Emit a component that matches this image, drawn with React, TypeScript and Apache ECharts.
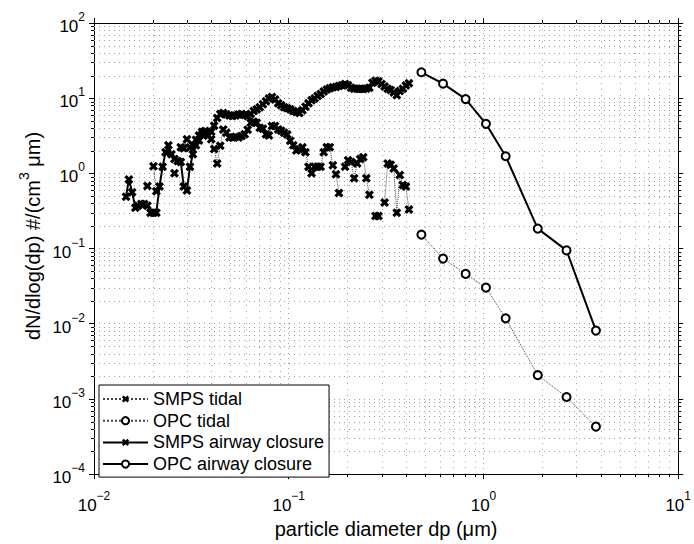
import React, { useEffect, useRef } from "react";
import * as echarts from "echarts";

// SMPS channel mid-point diameters (µm)
const smpsDp = [
  0.0146, 0.0151, 0.0157, 0.0163, 0.0168, 0.0175, 0.0181, 0.0188, 0.0195, 0.0202,
  0.0209, 0.0217, 0.0225, 0.0233, 0.0241, 0.025, 0.0259, 0.0269, 0.0279, 0.0289,
  0.03, 0.0311, 0.0322, 0.0334, 0.0346, 0.0359, 0.0372, 0.0385, 0.04, 0.0414,
  0.0429, 0.0445, 0.0461, 0.0478, 0.0496, 0.0514, 0.0533, 0.0552, 0.0573, 0.0594,
  0.0615, 0.0638, 0.0661, 0.0685, 0.071, 0.0737, 0.0764, 0.0791, 0.082, 0.0851,
  0.0882, 0.0914, 0.0947, 0.0982, 0.1018, 0.1055, 0.1094, 0.1134, 0.1176, 0.1219,
  0.1263, 0.131, 0.1358, 0.1407, 0.1459, 0.1512, 0.1568, 0.1625, 0.1685, 0.1747,
  0.1811, 0.1877, 0.1946, 0.2017, 0.2091, 0.2167, 0.2247, 0.2329, 0.2414, 0.2503,
  0.2595, 0.269, 0.2788, 0.289, 0.2996, 0.3106, 0.322, 0.3338, 0.346, 0.3587,
  0.3718, 0.3854, 0.3995, 0.4142,
];

const smpsTidal: (number | null)[] = [
  null, null, null, null, null, null, null, 0.68, null, 1.24,
  0.58, null, null, null, null, null, 1.0, null, 2.22, 2.15,
  2.85, 2.2, 2.36, 2.8, 3.18, 3.59, 3.66, 3.18, 2.85, 2.11,
  1.35, 2.33, 3.84, 3.48, 3.0, 3.0, 3.08, 3.0, 3.15, 3.31,
  3.81, 4.7, 4.85, 4.7, 4.04, 3.92, 3.31, 3.18, 4.25, 4.25,
  3.84, 3.7, 3.48, 3.28, 2.71, 2.36, 2.01, 2.1, 2.22, 1.91,
  1.22, 1.0, 1.22, 1.22, 1.22, 1.91, 2.22, 2.22, 1.28, 0.97,
  0.55, null, 1.22, 1.5, 1.42, 0.86, 1.35, 1.55, 1.64, 0.86,
  0.52, null, 0.27, 0.27, null, 0.41, 1.35, 1.3, 1.16, 0.3,
  0.95, 0.7, 0.67, 0.33,
];

const smpsClosure = [
  0.49, 0.83, 0.56, 0.35, 0.37, 0.39, 0.39, 0.37, 0.3, 0.3,
  0.3, 0.67, 1.22, 1.91, 2.36, 1.8, 1.55, 1.46, 1.42, 0.67,
  0.59, 1.22, 1.8, 2.36, 2.74, 3.28, 3.38, 3.18, 3.59, 4.29,
  5.46, 6.15, 6.34, 6.06, 5.89, 5.8, 5.89, 6.06, 6.15, 5.97,
  5.8, 6.15, 6.73, 7.14, 7.59, 8.3, 9.08, 9.94, 10.4, 9.64,
  8.55, 8.05, 7.59, 7.36, 7.14, 6.73, 6.53, 6.34, 6.93, 7.7,
  8.55, 9.36, 9.94, 10.7, 11.4, 12.3, 13.0, 13.6, 14.0, 14.1,
  14.5, 14.9, 15.4, 14.9, 13.8, 13.4, 13.4, 13.4, 13.2, 13.4,
  13.8, 16.1, 17.1, 16.8, 15.4, 14.3, 13.4, 12.8, 11.9, 10.9,
  12.5, 13.4, 14.7, 15.8,
];

const opcDp = [0.48, 0.62, 0.81, 1.03, 1.3, 1.9, 2.67, 3.78];
const opcTidal = [0.153, 0.0735, 0.046, 0.0302, 0.0118, 0.00207, 0.00106, 0.000428];
const opcClosure = [22.1, 15.6, 9.73, 4.56, 1.69, 0.184, 0.0945, 0.0081];

const seriesNames = ["SMPS tidal", "OPC tidal", "SMPS airway closure", "OPC airway closure"];
const X_MIN = 0.01;
const X_MAX = 10;
const Y_MIN = 1e-4;
const Y_MAX = 100;
const minorMultipliers = [2, 3, 4, 5, 6, 7, 8, 9];
const xDecades = [-2, -1, 0];
const yDecades = [-4, -3, -2, -1, 0, 1];

const FONT = "Liberation Sans, Arial, Helvetica, sans-serif";
const X_SYMBOL =
  "path://M2.5,0 L5,2.5 L7.5,0 L10,2.5 L7.5,5 L10,7.5 L7.5,10 L5,7.5 L2.5,10 L0,7.5 L2.5,5 L0,2.5 Z";

const supLabel = (v: number) => {
  const e = Math.round(Math.log10(v));
  const s = e < 0 ? "\u2212" + Math.abs(e) : String(e);
  return `{b|10}{s|${s}}`;
};

const supRich = {
  b: { fontSize: 17, lineHeight: 24, verticalAlign: "bottom", fontFamily: FONT, color: "#000" },
  s: { fontSize: 12, lineHeight: 8, verticalAlign: "top", fontFamily: FONT, color: "#000" },
};

export default function App() {
  const ref = useRef<HTMLDivElement>(null);

  useEffect(() => {
    document.body.style.margin = "0";
    if (!ref.current) return;
    const chart = echarts.init(ref.current, undefined, { renderer: "svg" });

    const minorX: number[][] = [];
    xDecades.forEach((k) => minorMultipliers.forEach((m) => minorX.push([m * Math.pow(10, k), 1])));
    const minorY: number[][] = [];
    yDecades.forEach((k) => minorMultipliers.forEach((m) => minorY.push([1, m * Math.pow(10, k)])));

    const gridColor = "#a0a0a0";
    const crisp = (v: number) => Math.round(v) + 0.5;

    const axisCommon = {
      type: "log" as const,
      logBase: 10,
      axisLine: { show: true, lineStyle: { color: "#000", width: 1 } },
      axisTick: { show: true, inside: false, length: 5, lineStyle: { color: "#000", width: 1 } },
    };

    chart.setOption({
      animation: false,
      backgroundColor: "#fff",
      textStyle: { fontFamily: FONT },
      grid: { left: 94, right: 15, top: 23, bottom: 60, show: false },
      xAxis: [
        {
          ...axisCommon,
          min: X_MIN,
          max: X_MAX,
          position: "bottom",
          axisLabel: { formatter: supLabel, rich: supRich, margin: 16 },
          splitLine: { show: true, lineStyle: { color: gridColor, type: [1, 4], width: 1 } },
          name: "particle diameter dp (\u03bcm)",
          nameLocation: "middle",
          nameGap: 43,
          nameTextStyle: { fontSize: 20, color: "#000", fontFamily: FONT },
        },
        {
          ...axisCommon,
          min: X_MIN,
          max: X_MAX,
          position: "top",
          axisLabel: { show: false },
          splitLine: { show: false },
        },
      ],
      yAxis: [
        {
          ...axisCommon,
          min: Y_MIN,
          max: Y_MAX,
          position: "left",
          axisLabel: { formatter: supLabel, rich: supRich, margin: 9 },
          splitLine: { show: true, lineStyle: { color: gridColor, type: [1, 4], width: 1 } },
        },
        {
          ...axisCommon,
          min: Y_MIN,
          max: Y_MAX,
          position: "right",
          axisLabel: { show: false },
          splitLine: { show: false },
        },
      ],
      graphic: [
        {
          type: "text",
          x: 30,
          y: 236,
          rotation: Math.PI / 2,
          style: {
            text: "{a|dN/dlog(dp) #/(cm}{s|3}{a| \u03bcm)}",
            align: "center",
            verticalAlign: "middle",
            textAlign: "center",
            textVerticalAlign: "middle",
            rich: {
              a: { fontSize: 20, lineHeight: 26, verticalAlign: "bottom", fontFamily: FONT, fill: "#000", color: "#000" },
              s: { fontSize: 14, lineHeight: 12, verticalAlign: "top", fontFamily: FONT, fill: "#000", color: "#000" },
            },
          },
        },
      ],
      legend: {
        data: seriesNames,
        orient: "vertical",
        left: 99,
        top: 385,
        itemWidth: 45,
        itemHeight: 9,
        itemGap: 3.7,
        padding: [5, 5, 4, 3],
        borderColor: "#000",
        borderWidth: 1,
        borderRadius: 0,
        backgroundColor: "#fff",
        textStyle: { fontSize: 18, lineHeight: 18, color: "#000", fontFamily: FONT },
        z: 10,
      },
      series: [
        {
          type: "custom",
          name: "minorX",
          silent: true,
          clip: false,
          z: 1,
          data: minorX,
          renderItem: (_p: any, api: any) => {
            const v = api.value(0);
            const b = api.coord([v, Y_MIN]);
            const t = api.coord([v, Y_MAX]);
            const x = crisp(b[0]);
            return {
              type: "group",
              children: [
                { type: "line", shape: { x1: x, y1: b[1], x2: x, y2: t[1] }, style: { stroke: gridColor, lineWidth: 1, lineDash: [1, 5] } },
                { type: "line", shape: { x1: x, y1: b[1], x2: x, y2: b[1] + 3 }, style: { stroke: "#000", lineWidth: 1 } },
                { type: "line", shape: { x1: x, y1: t[1], x2: x, y2: t[1] - 3 }, style: { stroke: "#000", lineWidth: 1 } },
              ],
            };
          },
        },
        {
          type: "custom",
          name: "minorY",
          silent: true,
          clip: false,
          z: 1,
          data: minorY,
          renderItem: (_p: any, api: any) => {
            const v = api.value(1);
            const l = api.coord([X_MIN, v]);
            const r = api.coord([X_MAX, v]);
            const y = crisp(l[1]);
            return {
              type: "group",
              children: [
                { type: "line", shape: { x1: l[0], y1: y, x2: r[0], y2: y }, style: { stroke: gridColor, lineWidth: 1, lineDash: [1, 4] } },
                { type: "line", shape: { x1: l[0], y1: y, x2: l[0] - 3, y2: y }, style: { stroke: "#000", lineWidth: 1 } },
                { type: "line", shape: { x1: r[0], y1: y, x2: r[0] + 3, y2: y }, style: { stroke: "#000", lineWidth: 1 } },
              ],
            };
          },
        },
        {
          type: "line",
          name: seriesNames[0],
          z: 3,
          data: smpsDp.map((d, i) => [d, smpsTidal[i] == null ? "-" : smpsTidal[i]]),
          symbol: X_SYMBOL,
          symbolSize: 9,
          showAllSymbol: true,
          connectNulls: false,
          itemStyle: { color: "#000" },
          lineStyle: { color: "#444", width: 1, type: "dotted" },
        },
        {
          type: "line",
          name: seriesNames[1],
          z: 3,
          data: opcDp.map((d, i) => [d, opcTidal[i]]),
          symbol: "emptyCircle",
          symbolSize: 8,
          showAllSymbol: true,
          itemStyle: { color: "#000", borderColor: "#000", borderWidth: 2 },
          lineStyle: { color: "#444", width: 1, type: "dotted" },
        },
        {
          type: "line",
          name: seriesNames[2],
          z: 4,
          data: smpsDp.map((d, i) => [d, smpsClosure[i]]),
          symbol: X_SYMBOL,
          symbolSize: 9,
          showAllSymbol: true,
          itemStyle: { color: "#000" },
          lineStyle: { color: "#000", width: 2, type: "solid" },
        },
        {
          type: "line",
          name: seriesNames[3],
          z: 4,
          data: opcDp.map((d, i) => [d, opcClosure[i]]),
          symbol: "emptyCircle",
          symbolSize: 8,
          showAllSymbol: true,
          itemStyle: { color: "#000", borderColor: "#000", borderWidth: 2 },
          lineStyle: { color: "#000", width: 2, type: "solid" },
        },
      ],
    });

    return () => chart.dispose();
  }, []);

  return <div ref={ref} style={{ width: 694, height: 544 }} />;
}
